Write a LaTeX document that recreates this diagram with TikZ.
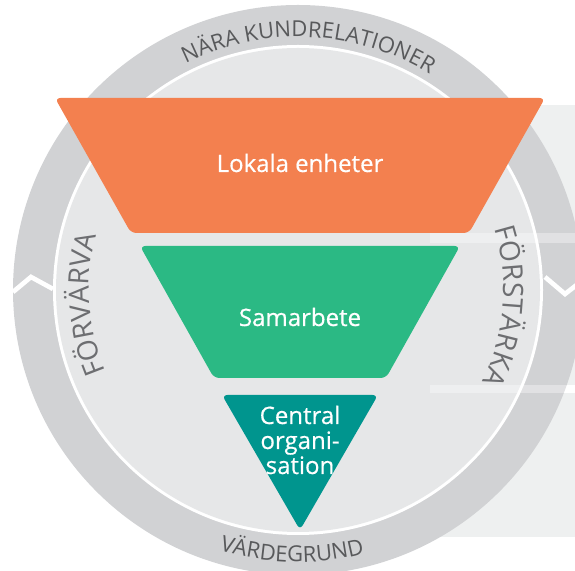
\documentclass[tikz,border=0pt]{standalone}
\usepackage{fontspec}
\setmainfont{Open Sans}
\newfontfamily\labelfont{Open Sans}[FakeBold=0.5]
\usepackage{tikz}
\usetikzlibrary{decorations.text}

\newcommand{\ringfont}{\fontsize{16.5}{18}\selectfont\color[RGB]{88,89,91}}
\newcommand{\sidefont}{\fontsize{21}{22}\selectfont\color[RGB]{109,110,113}}

\begin{document}
\begin{tikzpicture}[x=0.75pt,y=0.75pt,
  panel/.style={fill={rgb, 255:red, 238; green, 240; blue, 240 }},
  ring/.style={fill={rgb, 255:red, 209; green, 210; blue, 212 }},
  disc/.style={fill={rgb, 255:red, 230; green, 231; blue, 232 }},
  chevron/.style={draw=white, line width=3.5pt},
  funnel/.style={rounded corners=4pt},
  label/.style={text=white, font=\labelfont\fontsize{18}{18.75}\selectfont, inner sep=0pt}]
\useasboundingbox (0,0) rectangle (575,571);

%Shapes: Panels
\fill [panel] (420,466) rectangle (575,338) ;
\fill [panel] (420,328) rectangle (575,186) ;
\fill [panel] (420,178) rectangle (575,34) ;

%Shape: Circle [ring]
\fill [ring] (298,281) circle (285) ;
\fill [white] (298,281) circle (245) ;
\fill [disc] (298,281) circle (242) ;

%Straight Lines [chevrons]
\draw [chevron] (13,279) -- (31,294) -- (53,282) ;
\draw [chevron] (545,294) -- (565,277) -- (583,291) ;

%Shapes: light strips between panels
\fill [white, opacity=0.35] (430,338) rectangle (575,328) ;
\fill [white, opacity=0.35] (430,186) rectangle (575,178) ;

%Shape: Trapezoid
\fill [funnel, fill={rgb, 255:red, 243; green, 128; blue, 79 }] (55,473) -- (545,473) -- (469,338) -- (131,338) -- cycle ;
%Shape: Trapezoid
\fill [funnel, fill={rgb, 255:red, 43; green, 185; blue, 132 }] (140,325) -- (460,325) -- (386,193) -- (214,193) -- cycle ;
%Shape: Triangle
\fill [funnel, fill={rgb, 255:red, 0; green, 149; blue, 142 }] (222,176) -- (378,176) -- (300,41) -- cycle ;

% Text Node
\node [label] (lokala) at (300,408) {Lokala enheter};
% Text Node
\node [label] (samarbete) at (300,254) {Samarbete};
% Text Node
\node [label, align=center] (central) at (300,131) {Central\\organi-\\sation};

% Text along ring
\path [decorate, decoration={text along path, text align=center,
  text={|\ringfont|NÄRA KUNDRELATIONER}}] (298,281) ++(147.5:253) arc (147.5:27.5:253) ;
\path [decorate, decoration={text along path, text align=center,
  text={|\ringfont|VÄRDEGRUND}}] (298,281) ++(218.7:272) arc (218.7:318.7:272) ;
% Text along disc edge
\path [decorate, decoration={text along path, text align=fit to path,
  text={|\sidefont|FÖRVÄRVA}}] (298,281) ++(203:209) arc (203:165.4:209) ;
\path [decorate, decoration={text along path, text align=fit to path,
  text={|\sidefont|FÖRSTÄRKA}}] (298,281) ++(17.5:206) arc (17.5:-26.5:206) ;

\end{tikzpicture}
\end{document}
